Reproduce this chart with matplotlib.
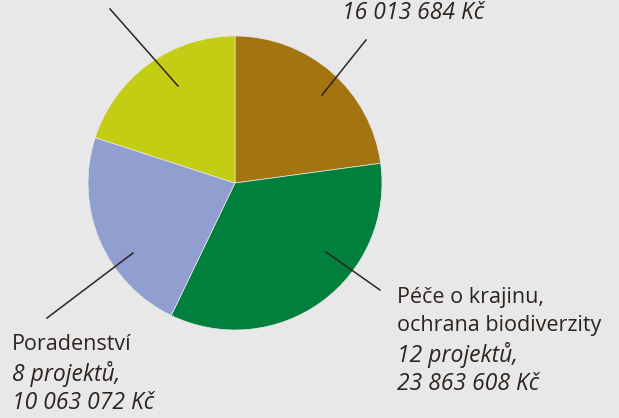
import matplotlib.pyplot as plt
from matplotlib.lines import Line2D

# Data: slice sizes are project counts (clockwise from top)
names = ['Vzdělávání', 'Péče o krajinu,\nochrana biodiverzity', 'Poradenství', 'Ostatní']
projects = [8, 12, 8, 7]
amounts = ['16 013 684 Kč', '23 863 608 Kč', '10 063 072 Kč', '']
colors = ['#a47410', '#00803c', '#909fcf', '#c3cd14']

W, H = 619, 418
bg = '#e8e8e8'
ink = '#2e2420'
plt.rcParams['font.family'] = ['Open Sans', 'DejaVu Sans']

fig = plt.figure(figsize=(W / 100, H / 100), dpi=100, facecolor=bg)

# pie centre and radius in pixels
cx, cy, r = 235, 183, 147
ax = fig.add_axes([(cx - r) / W, (H - cy - r) / H, 2 * r / W, 2 * r / H])
ax.set_facecolor(bg)
ax.pie(projects, colors=colors, startangle=90, counterclock=False,
       wedgeprops=dict(linewidth=0.5, edgecolor=bg))
ax.set_xlim(-1, 1)
ax.set_ylim(-1, 1)
ax.set_aspect('equal')
ax.axis('off')


def px(x, y):
    return x / W, 1 - y / H


def leader(x0, y0, x1, y1):
    a, b = px(x0, y0)
    c, d = px(x1, y1)
    fig.add_artist(Line2D([a, c], [b, d], color=ink, lw=1.1))


leader(110, 9, 178, 86)
leader(366, 40, 322, 95)
leader(133, 253, 47, 318)
leader(326, 252, 380, 290)


def label(x, y, lines, step=29):
    for i, (txt, italic) in enumerate(lines):
        fig.text(*px(x, y + i * step), txt, color=ink,
                 fontsize=16.5 if italic else 15.5, weight='medium',
                 style='italic' if italic else 'normal', ha='left', va='center')


# top label is cut off by the frame, only its last line shows
label(342, 13, [(amounts[0], True)])
label(397, 297, [('Péče o krajinu,', False), ('ochrana biodiverzity', False),
                 (f'{projects[1]} projektů,', True), (amounts[1], True)])
label(12, 345, [(names[2], False), (f'{projects[2]} projektů,', True),
                (amounts[2], True)])

fig.savefig('out.png', dpi=100, facecolor=bg)
